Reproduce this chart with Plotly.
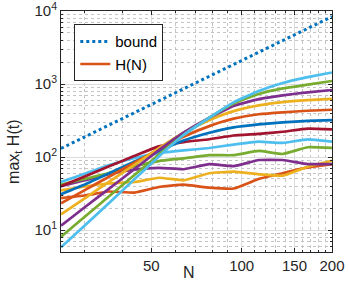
import plotly.graph_objects as go

N = [25, 30, 36, 44, 53, 64, 78, 94, 114, 137, 166, 200]
bound = [131, 189, 272, 406, 589, 859, 1275, 1852, 2724, 3934, 5776, 8384]

H1 = [27.4, 29.7, 33.7, 32.6, 38.8, 41.8, 38.0, 37.0, 50.0, 60.0, 72.0, 80.0]
H2 = [35.0, 39.5, 43.4, 45.5, 52.0, 48.0, 60.0, 63.0, 58.0, 55.5, 73.6, 89.0]
H3 = [40.0, 48.0, 58.0, 67.0, 71.0, 68.0, 80.0, 75.0, 91.0, 91.0, 80.0, 80.0]
H4 = [42.0, 50.0, 60.0, 75.0, 88.0, 96.0, 106.0, 106.0, 121.0, 110.0, 136.0, 133.0]
H5 = [45.5, 59.0, 77.0, 97.0, 113.0, 123.0, 133.0, 148.0, 162.0, 156.0, 174.0, 162.0]
H6 = [39.7, 54.0, 74.0, 104.0, 140.0, 160.0, 175.0, 197.0, 207.0, 222.0, 245.0, 239.0]
H7 = [31.0, 42.0, 59.6, 86.6, 121.0, 168.0, 215.0, 255.0, 280.0, 298.0, 312.0, 321.0]
H8 = [23.2, 35.2, 53.3, 84.2, 128.0, 190.0, 265.0, 335.0, 385.0, 410.0, 430.0, 444.0]
H9 = [16.4, 27.2, 45.3, 78.9, 132.0, 215.0, 320.0, 425.0, 510.0, 565.0, 600.0, 624.0]
H10 = [11.5, 20.5, 36.4, 68.7, 124.0, 215.0, 345.0, 500.0, 620.0, 700.0, 770.0, 828.0]
H11 = [8.1, 15.2, 28.5, 57.0, 108.0, 200.0, 345.0, 540.0, 730.0, 870.0, 980.0, 1100.0]
H12 = [5.8, 11.5, 23.0, 50.0, 102.0, 200.0, 345.0, 560.0, 800.0, 1030.0, 1240.0, 1440.0]

series = [H1, H2, H3, H4, H5, H6, H7, H8, H9, H10, H11, H12]
colors = ["#D95319", "#EDB120", "#7E2F8E", "#77AC30", "#4DBEEE", "#A2142F",
          "#0072BD", "#D95319", "#EDB120", "#7E2F8E", "#77AC30", "#4DBEEE"]

x_ticks = [50, 100, 150, 200]
x_minor = [30, 40, 60, 70, 80, 90, 110, 120, 130, 140, 160, 170, 180, 190]
y_ticks = [10, 100, 1000, 10000]
y_ticktext = ["10<sup>1</sup>", "10<sup>2</sup>", "10<sup>3</sup>", "10<sup>4</sup>"]
y_minor = [m * d for d in (1, 10, 100, 1000) for m in range(2, 10) if m * d > 5]

FONT = "Liberation Sans, Arial, Helvetica, sans-serif"

fig = go.Figure()
fig.add_trace(go.Scatter(x=N, y=bound, mode="lines", name="bound",
                         line=dict(color="#0072BD", width=3, dash="dot")))
for i, (s, c) in enumerate(zip(series, colors)):
    fig.add_trace(go.Scatter(x=N, y=s, mode="lines", name="H(N)",
                             showlegend=(i == 0),
                             line=dict(color=c, width=2.7, shape="spline",
                                       smoothing=0.35)))

axis_common = dict(
    showline=True, linecolor="#262626", linewidth=1, mirror="allticks",
    ticks="inside", ticklen=4, tickcolor="#262626",
    showgrid=True, gridcolor="#dcdcdc", gridwidth=1,
    zeroline=False, automargin=False, ticklabeloverflow="allow",
    tickfont=dict(family=FONT, size=15, color="#262626"),
)

fig.update_xaxes(type="log", range=[1.39794, 2.30103],
                 tickvals=x_ticks, ticktext=[str(v) for v in x_ticks],
                 minor=dict(tickvals=x_minor, ticks="inside", ticklen=2,
                            tickcolor="#262626", showgrid=True,
                            gridcolor="#c4c4c4", griddash="dot", gridwidth=1),
                 **axis_common)
fig.update_yaxes(type="log", range=[0.69897, 4.0],
                 tickvals=y_ticks, ticktext=y_ticktext,
                 minor=dict(tickvals=y_minor, ticks="inside", ticklen=2,
                            tickcolor="#262626", showgrid=True,
                            gridcolor="#c4c4c4", griddash="dot", gridwidth=1),
                 **axis_common)

fig.update_layout(
    width=349, height=283,
    margin=dict(l=61, r=17, t=11, b=31),
    paper_bgcolor="white", plot_bgcolor="white",
    font=dict(family=FONT, size=15, color="#262626"),
    showlegend=True,
    legend=dict(x=0.049, y=0.945, xanchor="left", yanchor="top",
                bgcolor="white", bordercolor="#262626", borderwidth=1,
                font=dict(family=FONT, size=15, color="#000000"),
                tracegroupgap=0, itemwidth=30),
    annotations=[
        dict(text="N", x=0.472, y=-0.085, xref="paper", yref="paper",
             xanchor="center", yanchor="middle", showarrow=False,
             font=dict(family=FONT, size=16, color="#262626")),
        dict(text="max<sub>t</sub> H(t)", x=-0.17, y=0.415, xref="paper", yref="paper",
             xanchor="center", yanchor="middle", textangle=-90, showarrow=False,
             font=dict(family=FONT, size=16, color="#262626")),
    ],
)

fig.write_html("out.html", config={"displayModeBar": False},
               post_script="document.body.style.margin='0';document.body.style.padding='0';")
